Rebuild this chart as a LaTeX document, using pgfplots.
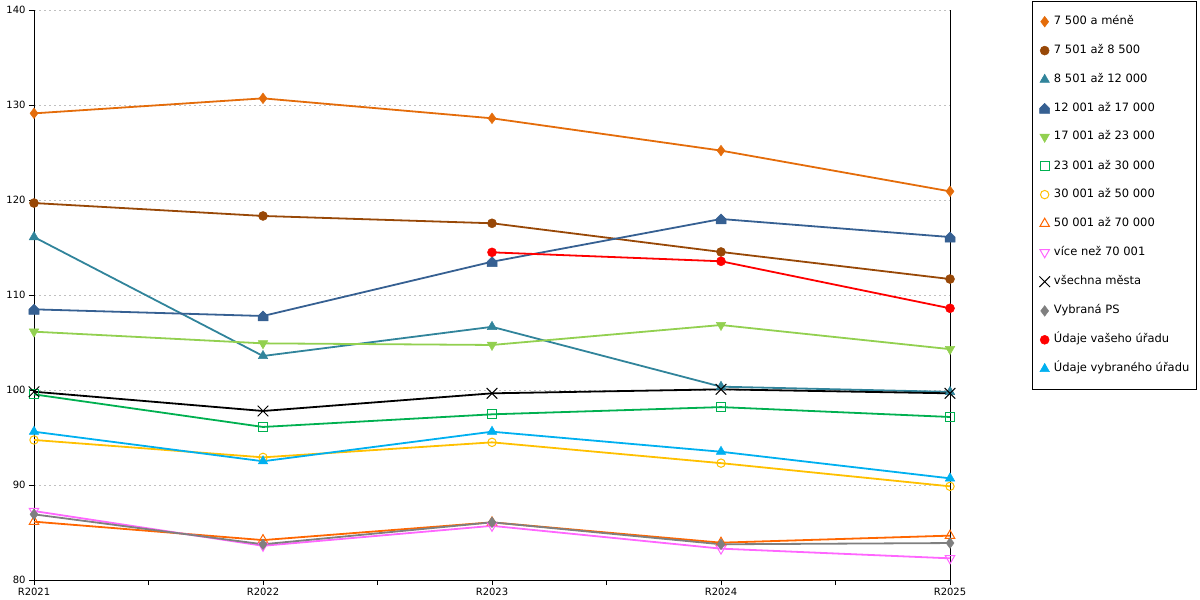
\documentclass[border=0pt]{standalone}
\usepackage{pgfplots}
\pgfplotsset{compat=1.18}
\usepackage{fontspec}
\setmainfont{DejaVu Sans}
\definecolor{c1}{HTML}{E46C0A}
\definecolor{c2}{HTML}{984807}
\definecolor{c3}{HTML}{31849B}
\definecolor{c4}{HTML}{366092}
\definecolor{c5}{HTML}{92D050}
\definecolor{c6}{HTML}{00B050}
\definecolor{c7}{HTML}{FFC000}
\definecolor{c8}{HTML}{FF6600}
\definecolor{c9}{HTML}{FF66FF}
\definecolor{c11}{HTML}{7F7F7F}
\definecolor{c12}{HTML}{FF0000}
\definecolor{c13}{HTML}{00B0F0}
\definecolor{gridc}{HTML}{C0C0C0}
\pgfdeclareplotmark{house}{%
  \pgfpathmoveto{\pgfqpoint{-\pgfplotmarksize}{-\pgfplotmarksize}}%
  \pgfpathlineto{\pgfqpoint{\pgfplotmarksize}{-\pgfplotmarksize}}%
  \pgfpathlineto{\pgfqpoint{\pgfplotmarksize}{0pt}}%
  \pgfpathlineto{\pgfqpoint{0pt}{\pgfplotmarksize}}%
  \pgfpathlineto{\pgfqpoint{-\pgfplotmarksize}{0pt}}%
  \pgfpathclose
  \pgfusepathqfillstroke}
\begin{document}
\begin{tikzpicture}
\path[use as bounding box] (0,0) rectangle (1200bp,600bp);
\begin{axis}[
  at={(34bp,20bp)}, anchor=south west,
  scale only axis, width=916bp, height=570bp,
  xmin=0, xmax=4, ymin=80, ymax=140,
  clip=false,
  axis x line*=bottom, axis y line*=left,
  xtick={0,1,2,3,4},
  xticklabels={R2021,R2022,R2023,R2024,R2025},
  minor xtick={0.5,1.5,2.5,3.5},
  ytick={80,90,...,140},
  tick align=outside,
  major tick length=5bp, minor tick length=5bp,
  tick style={black, line width=0.8bp},
  axis line style={black, line width=0.8bp},
  ymajorgrids=true,
  major grid style={gridc, line width=0.8bp, dash pattern=on 2bp off 3bp},
  font=\fontsize{10bp}{12bp}\selectfont,
  /pgf/number format/assume math mode=true,
  every axis plot/.append style={line width=1.8bp},
  legend image code/.code={\draw[#1,only marks] plot coordinates {(0cm,0cm)};},
  legend cell align=left,
  legend style={
    at={(1.0895,1.0158)}, anchor=north west,
    draw=black, line width=0.8bp, fill=white,
    font=\fontsize{11.5bp}{13bp}\selectfont,
    inner xsep=7bp, inner ysep=15bp,
    row sep=18.6bp, column sep=0bp,
    nodes={inner sep=0pt, text height=8bp, text depth=2bp},
    /tikz/every odd column/.append style={column sep=4bp},
  },
]
\draw[black, line width=0.8bp] (rel axis cs:1,0) -- (rel axis cs:1,1);
\addplot[c1, mark=diamond*, mark size=5.3bp, mark options={fill=c1, draw=c1, line width=0.5bp}]
  coordinates {(0,129.12) (1,130.7) (2,128.6) (3,125.2) (4,120.91)};
\addlegendentry{7 500 a méně}
\addplot[c2, mark=*, mark size=4.5bp, mark options={fill=c2, draw=c2, line width=0.5bp}]
  coordinates {(0,119.68) (1,118.32) (2,117.55) (3,114.53) (4,111.68)};
\addlegendentry{7 501 až 8 500}
\addplot[c3, mark=triangle*, mark size=5.5bp, mark options={fill=c3, draw=c3, line width=0.5bp}]
  coordinates {(0,116.1) (1,103.58) (2,106.65) (3,100.35) (4,99.8)};
\addlegendentry{8 501 až 12 000}
\addplot[c4, mark=house, mark size=5bp, mark options={fill=c4, draw=c4, line width=0.5bp}]
  coordinates {(0,108.49) (1,107.79) (2,113.5) (3,118.0) (4,116.1)};
\addlegendentry{12 001 až 17 000}
\addplot[c5, mark=triangle*, mark size=5.5bp, mark options={fill=c5, draw=c5, line width=0.5bp, rotate=180}]
  coordinates {(0,106.14) (1,104.91) (2,104.74) (3,106.84) (4,104.3)};
\addlegendentry{17 001 až 23 000}
\addplot[c6, mark=square, mark size=4.5bp, mark options={draw=c6, fill=white, line width=1bp}]
  coordinates {(0,99.54) (1,96.11) (2,97.44) (3,98.2) (4,97.16)};
\addlegendentry{23 001 až 30 000}
\addplot[c7, mark=o, mark size=4.2bp, mark options={draw=c7, line width=1bp}]
  coordinates {(0,94.74) (1,92.91) (2,94.49) (3,92.3) (4,89.86)};
\addlegendentry{30 001 až 50 000}
\addplot[c8, mark=triangle, mark size=5.5bp, mark options={draw=c8, line width=1bp}]
  coordinates {(0,86.14) (1,84.2) (2,86.07) (3,83.93) (4,84.67)};
\addlegendentry{50 001 až 70 000}
\addplot[c9, mark=triangle, mark size=5.5bp, mark options={draw=c9, line width=1bp, rotate=180}]
  coordinates {(0,87.26) (1,83.6) (2,85.7) (3,83.3) (4,82.28)};
\addlegendentry{více než 70 001}
\addplot[black, mark=x, mark size=7.5bp, mark options={draw=black, line width=1bp}]
  coordinates {(0,99.82) (1,97.79) (2,99.65) (3,100.07) (4,99.65)};
\addlegendentry{všechna města}
\addplot[c11, mark=diamond*, mark size=5.3bp, mark options={fill=c11, draw=c11, line width=0.5bp}]
  coordinates {(0,86.91) (1,83.76) (2,86.07) (3,83.76) (4,83.89)};
\addlegendentry{Vybraná PS}
\addplot[c12, mark=*, mark size=4.5bp, mark options={fill=c12, draw=c12, line width=0.5bp}]
  coordinates {(2,114.49) (3,113.55) (4,108.6)};
\addlegendentry{Údaje vašeho úřadu}
\addplot[c13, mark=triangle*, mark size=5.5bp, mark options={fill=c13, draw=c13, line width=0.5bp}]
  coordinates {(0,95.61) (1,92.5) (2,95.61) (3,93.5) (4,90.7)};
\addlegendentry{Údaje vybraného úřadu}
\end{axis}
\end{tikzpicture}
\end{document}
